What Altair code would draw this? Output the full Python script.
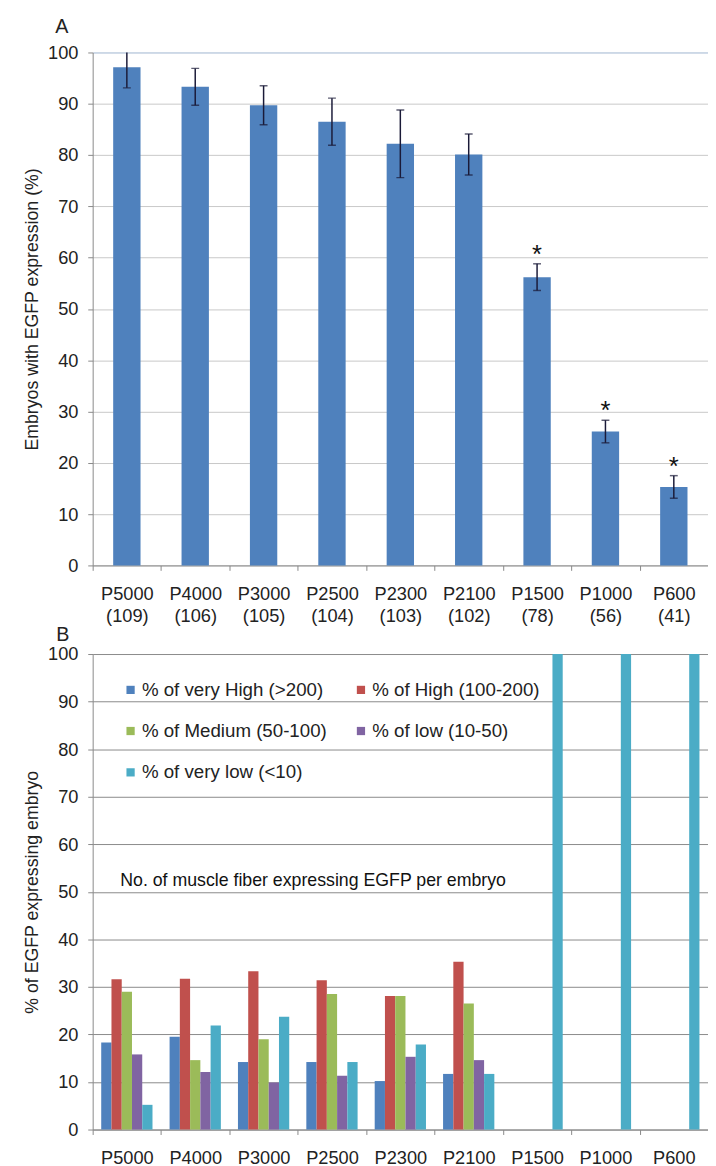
import altair as alt
import pandas as pd

# ---------------- data ----------------
categories = ["P5000", "P4000", "P3000", "P2500", "P2300", "P2100", "P1500", "P1000", "P600"]
embryo_counts = [109, 106, 105, 104, 103, 102, 78, 56, 41]
egfp_pct = [97.1, 93.3, 89.7, 86.5, 82.2, 80.1, 56.2, 26.1, 15.3]
egfp_err = [4.0, 3.6, 3.8, 4.6, 6.6, 4.0, 2.6, 2.2, 2.2]
significant = [False, False, False, False, False, False, True, True, True]

series_names = ["% of very High (>200)", "% of High (100-200)", "% of Medium (50-100)",
                "% of low (10-50)", "% of very low (<10)"]
very_high = [18.3, 19.5, 14.2, 14.2, 10.2, 11.7, 0, 0, 0]
high = [31.6, 31.7, 33.3, 31.4, 28.1, 35.3, 0, 0, 0]
medium = [29.0, 14.6, 19.0, 28.5, 28.1, 26.5, 0, 0, 0]
low = [15.8, 12.1, 9.9, 11.3, 15.3, 14.6, 0, 0, 0]
very_low = [5.2, 21.9, 23.7, 14.2, 17.9, 11.7, 100, 100, 100]
series_colors = ["#4f81bd", "#c0504d", "#9bbb59", "#8064a2", "#4bacc6"]

titleA = "Embryos with EGFP expression (%)"
titleB = "% of EGFP expressing embryo"
note_text = "No. of muscle fiber expressing EGFP per embryo"
note_value = 52.2

FONT = "Liberation Sans"
W = 625
STEP = W / 9.0
HA = 521
HB = 483

# ---------------- panel A ----------------
labelsA = [f"{c}\n({n})" for c, n in zip(categories, embryo_counts)]
dfA = pd.DataFrame({
    "cat": labelsA,
    "pct": egfp_pct,
    "lo": [p - e for p, e in zip(egfp_pct, egfp_err)],
    "hi": [p + e for p, e in zip(egfp_pct, egfp_err)],
    "sig": significant,
})

xA = alt.X("cat:N", sort=labelsA,
           scale=alt.Scale(paddingInner=0.6, paddingOuter=0.3),
           axis=alt.Axis(title=None, labelAngle=0,
                         labelExpr="split(datum.label, '\\n')",
                         labelLineHeight=22, tickOffset=-STEP / 2,
                         labelOffset=STEP / 2, labelPadding=15))
yA_scale = alt.Scale(domain=[0, 100], nice=False)
yA_axis = alt.Axis(title=titleA, values=list(range(0, 101, 10)),
                   gridColor={"condition": {"test": "datum.value === 100", "value": "#9db4d0"},
                              "value": "#c8c8c8"})

baseA = alt.Chart(dfA)
barsA = baseA.mark_bar(color="#4f81bd").encode(
    x=xA, y=alt.Y("pct:Q", scale=yA_scale, axis=yA_axis))
errA = baseA.mark_rule(color="#1a1a38", strokeWidth=1.5, clip=True).encode(
    x=alt.X("cat:N", sort=labelsA), y="lo:Q", y2="hi:Q")
capHi = baseA.mark_tick(color="#1a1a38", size=8, thickness=1.5, clip=True).encode(
    x=alt.X("cat:N", sort=labelsA), y="hi:Q")
capLo = baseA.mark_tick(color="#1a1a38", size=8, thickness=1.5, clip=True).encode(
    x=alt.X("cat:N", sort=labelsA), y="lo:Q")
stars = baseA.transform_filter("datum.sig").mark_text(
    text="*", fontSize=26, font=FONT, baseline="alphabetic", color="#111", dy=-1).encode(
    x=alt.X("cat:N", sort=labelsA), y="hi:Q")

panelA = alt.layer(barsA, errA, capHi, capLo, stars).properties(
    width=W, height=HA,
    title=alt.Title("A", anchor="start", frame="group", dx=-38, offset=-9,
                    baseline="alphabetic", fontSize=20, fontWeight="normal", font=FONT,
                    color="#222"))

# ---------------- panel B ----------------
series_values = [very_high, high, medium, low, very_low]
rows = []
for name, vals in zip(series_names, series_values):
    for c, v in zip(categories, vals):
        rows.append({"cat": c, "series": name, "value": v})
dfB = pd.DataFrame(rows)
dfB = dfB[dfB["value"] > 0]

xB = alt.X("cat:N", sort=categories,
           scale=alt.Scale(paddingInner=0.25, paddingOuter=0.125),
           axis=alt.Axis(title=None, labelAngle=0, tickOffset=-STEP / 2,
                         labelOffset=STEP / 2, labelPadding=14))
barsB = alt.Chart(dfB).mark_bar().encode(
    x=xB,
    xOffset=alt.XOffset("series:N", sort=series_names, scale=alt.Scale(paddingInner=0, paddingOuter=0)),
    y=alt.Y("value:Q", scale=alt.Scale(domain=[0, 100], nice=False),
            axis=alt.Axis(title=titleB, values=list(range(0, 101, 10)), gridColor="#8a8a8a")),
    color=alt.Color("series:N", sort=series_names,
                    scale=alt.Scale(domain=series_names, range=series_colors),
                    legend=alt.Legend(orient="none", legendX=29, legendY=637.7, columns=2,
                                      direction="horizontal",
                                      title=None, symbolType="square", symbolSize=70,
                                      symbolStrokeWidth=0, labelFontSize=19, labelFont=FONT,
                                      labelColor="#222", columnPadding=25, rowPadding=22,
                                      padding=0, labelOffset=2, labelLimit=400)),
)
note = alt.Chart(pd.DataFrame({"t": [note_text]})).mark_text(
    align="left", baseline="middle", fontSize=18, font=FONT, color="#111").encode(
    x=alt.value(28), y=alt.datum(note_value), text="t:N")

panelB = alt.layer(barsB, note).properties(
    width=W, height=HB,
    title=alt.Title("B", anchor="start", frame="group", dx=-37, offset=-16,
                    baseline="alphabetic", fontSize=20, fontWeight="normal", font=FONT,
                    color="#222"))

chart = alt.vconcat(panelA, panelB, spacing=0).properties(
    padding={"left": 16, "top": 0, "right": 0, "bottom": 0}
).configure_view(stroke=None).configure_axis(
    labelFont=FONT, titleFont=FONT, labelFontSize=18.5, titleFontSize=18,
    labelColor="#222", titleColor="#222", titleFontWeight="normal",
    domainColor="#888", tickColor="#888", tickSize=5, gridWidth=1,
).configure_axisY(
    labelPadding=10, titlePadding=6,
).configure_axisX(grid=False)

chart.save("out.html", embed_options={"renderer": "svg", "actions": False})
